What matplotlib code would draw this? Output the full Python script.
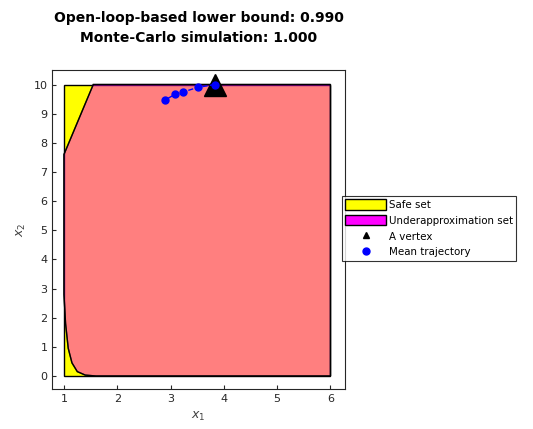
import numpy as np
import matplotlib
matplotlib.use("Agg")
import matplotlib.pyplot as plt
from matplotlib.patches import Polygon, Patch
from matplotlib.lines import Line2D

# safe set box
SAFE_X = [1, 6, 6, 1]
SAFE_Y = [0, 0, 10, 10]

# underapproximation set boundary
UNDER_X = [1.0, 1.55, 6.0, 6.0, 1.6, 1.4, 1.25, 1.15, 1.08, 1.03, 1.0]
UNDER_Y = [7.6, 10.0, 10.0, 0.0, 0.0, 0.03, 0.15, 0.45, 0.95, 1.8, 2.8]

# mean trajectory and the vertex it starts from
TRAJ_X = [3.83, 3.51, 3.23, 3.08, 2.89]
TRAJ_Y = [10.0, 9.90, 9.74, 9.66, 9.46]
VERTEX = (3.83, 10.0)

fig = plt.figure(figsize=(5.33, 4.29), dpi=100)
ax = fig.add_axes([0.098, 0.093, 0.549, 0.744])

ax.add_patch(Polygon(np.column_stack([SAFE_X, SAFE_Y]), closed=True,
                     facecolor="yellow", edgecolor="black", lw=1.0))
ax.add_patch(Polygon(np.column_stack([UNDER_X, UNDER_Y]), closed=True,
                     facecolor="magenta", alpha=0.5, edgecolor="black", lw=1.0))
ax.add_patch(Polygon(np.column_stack([UNDER_X, UNDER_Y]), closed=True,
                     facecolor="none", edgecolor="black", lw=1.0))

ax.plot(*VERTEX, "^", color="black", ms=16, zorder=3)
ax.plot(TRAJ_X, TRAJ_Y, "--o", color="blue", ms=5, lw=1, zorder=4)

ax.set_xlim(0.78, 6.27)
ax.set_ylim(-0.45, 10.5)
ax.set_xticks(range(1, 7))
ax.set_yticks(range(0, 11))
ax.tick_params(labelsize=8, colors="#262626", direction="in", length=3)
for s in ax.spines.values():
    s.set_color("#262626")
    s.set_linewidth(0.8)
ax.set_xlabel(r"$x_1$", fontsize=9, color="#404040")
ax.set_ylabel(r"$x_2$", fontsize=9, color="#404040")

ax.set_title("Open-loop-based lower bound: 0.990\nMonte-Carlo simulation: 1.000",
             fontsize=10, fontweight="bold", pad=20, linespacing=1.55)

handles = [Patch(facecolor="yellow", edgecolor="black", label="Safe set"),
           Patch(facecolor="magenta", edgecolor="black", label="Underapproximation set"),
           Line2D([], [], marker="^", color="black", ls="none", ms=5, label="A vertex"),
           Line2D([], [], marker="o", color="blue", ls="none", ms=5, label="Mean trajectory")]
leg = ax.legend(handles=handles, loc="upper left", bbox_to_anchor=(0.99, 0.605),
                fontsize=7.4, frameon=True, fancybox=False, edgecolor="black",
                borderpad=0.3, labelspacing=0.5, handlelength=4.0, handleheight=1.2,
                handletextpad=0.3, borderaxespad=0)
leg.get_frame().set_linewidth(0.8)

fig.savefig("out.png", dpi=100)
